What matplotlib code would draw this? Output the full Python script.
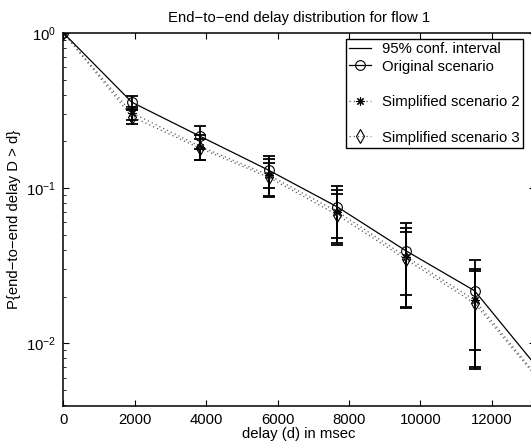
import matplotlib
matplotlib.use("Agg")
import matplotlib.pyplot as plt
from matplotlib.lines import Line2D
import numpy as np

plt.rcParams['font.family'] = ['Liberation Sans', 'DejaVu Sans']
plt.rcParams['mathtext.default'] = 'regular'

# ---- data ----
delay_ms = [0, 1920, 3840, 5760, 7680, 9600, 11520, 13440]

orig = [1.0, 0.357, 0.215, 0.130, 0.0755, 0.0394, 0.0218, 0.0063]
orig_lo = [1.0, 0.321, 0.179, 0.100, 0.048, 0.0205, 0.0090, 0.0015]
orig_hi = [1.0, 0.393, 0.251, 0.161, 0.103, 0.0593, 0.0344, 0.011]

sim2 = [1.0, 0.305, 0.185, 0.121, 0.0704, 0.0361, 0.0190, 0.0055]
sim2_lo = [1.0, 0.275, 0.151, 0.089, 0.044, 0.0172, 0.0070, 0.0012]
sim2_hi = [1.0, 0.335, 0.218, 0.153, 0.097, 0.055, 0.0299, 0.010]

sim3 = [1.0, 0.288, 0.180, 0.117, 0.067, 0.0347, 0.0181, 0.0054]
sim3_lo = [1.0, 0.257, 0.152, 0.088, 0.043, 0.0170, 0.0068, 0.0012]
sim3_hi = [1.0, 0.318, 0.208, 0.146, 0.092, 0.052, 0.0290, 0.0098]

x_ticks = [0, 2000, 4000, 6000, 8000, 10000, 12000]
title = "End\u2212to\u2212end delay distribution for flow 1"
xlabel = "delay (d) in msec"
ylabel = "P{end\u2212to\u2212end delay D > d}"
labels = ["95% conf. interval", "Original scenario", "Simplified scenario 2", "Simplified scenario 3"]

W, H = 531, 441
fig = plt.figure(figsize=(W / 100, H / 100), dpi=100)
left, right, bottom, top = 63.3, 535.0, 406.0, 32.8
ax = fig.add_axes([left / W, 1 - bottom / H, (right - left) / W, (bottom - top) / H])

x = np.array(delay_ms, dtype=float)
FS = 10.7

def draw_err(y, lo, hi):
    y = np.array(y); lo = np.array(lo); hi = np.array(hi)
    m = x > 0
    ax.errorbar(x[m], y[m], yerr=[y[m] - lo[m], hi[m] - y[m]], fmt='none',
                ecolor='black', elinewidth=1.3, capsize=4.5, capthick=1.3, zorder=2)

draw_err(orig, orig_lo, orig_hi)
draw_err(sim2, sim2_lo, sim2_hi)
draw_err(sim3, sim3_lo, sim3_hi)

dot = (0, (1, 2.4))
ax.plot(x, sim2, color='0.35', lw=0.9, linestyle=dot, marker=(8, 2, 0), ms=6,
        mec='black', mew=0.8, zorder=3)
ax.plot(x, sim3, color='0.35', lw=0.9, linestyle=dot, marker='d', ms=7,
        mfc='none', mec='black', mew=0.8, zorder=3)
ax.plot(x, orig, color='black', lw=0.9, marker='o', ms=7, mfc='none',
        mec='black', mew=0.8, zorder=4)

ax.set_yscale('log')
ax.set_xlim(0, (right - left) / 71.4 * 2000)
ax.set_ylim(10 ** (-2 - (bottom - 343.3) / 155.2), 1.0)
ax.set_xticks(x_ticks)
ax.set_xticklabels([str(t) for t in x_ticks])

ax.tick_params(which='both', direction='in', top=True, right=True, labelsize=FS)
ax.tick_params(which='major', length=4.5, width=0.8, pad=5)
ax.tick_params(which='minor', length=2.3, width=0.6)
for s in ax.spines.values():
    s.set_linewidth(1.1)

ax.set_title(title, fontsize=FS, pad=8)
ax.set_xlabel(xlabel, fontsize=FS, labelpad=0)
ax.set_ylabel(ylabel, fontsize=FS, labelpad=4)

blank = Line2D([], [], linestyle='none')
handles = [
    Line2D([], [], color='black', lw=0.9),
    Line2D([], [], color='black', lw=0.9, marker='o', ms=7, mfc='none', mew=0.8),
    blank,
    Line2D([], [], color='0.35', lw=0.9, linestyle=dot, marker=(8, 2, 0), ms=6, mec='black', mew=0.8),
    blank,
    Line2D([], [], color='0.35', lw=0.9, linestyle=dot, marker='d', ms=7, mfc='none', mec='black', mew=0.8),
]
leg_labels = [labels[0], labels[1], ' ', labels[2], ' ', labels[3]]
leg = ax.legend(handles, leg_labels, loc='upper right',
                bbox_to_anchor=(523 / W, 1 - 39 / H), bbox_transform=fig.transFigure,
                borderaxespad=0, fontsize=FS, frameon=True, fancybox=False,
                framealpha=1, edgecolor='black', handlelength=1.5, handletextpad=0.75,
                borderpad=0.2, labelspacing=0.25, numpoints=1)
leg.get_frame().set_linewidth(1.0)

fig.savefig("out.png", dpi=100)
